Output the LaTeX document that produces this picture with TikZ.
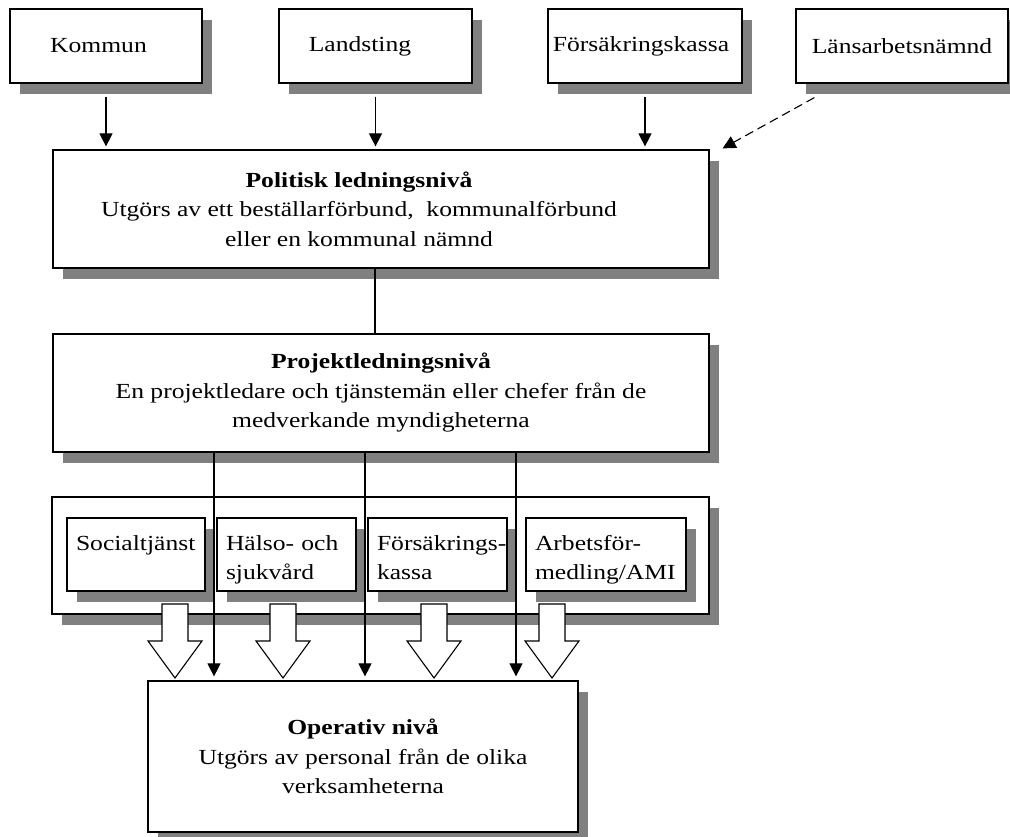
\documentclass[tikz,border=0pt]{standalone}
\usepackage{fontspec}
\setmainfont{Liberation Serif}[FakeStretch=1.19]
\usetikzlibrary{arrows.meta, shadows}
\definecolor{shadowgray}{HTML}{808080}
\newcommand\boxfont{\fontsize{21.5}{29.5}\selectfont\hyphenpenalty=10000}
\newcommand\upstrut{\rule{0pt}{26pt}}
\newcommand\downstrut{\rule[-5.5pt]{0pt}{5.5pt}}
\newcommand\padr[1][44pt]{\hspace*{#1}\mbox{}}
\tikzset{
  box/.style={
    draw, line width=1.2pt, fill=white, inner sep=0pt,
    font=\boxfont, align=center,
    drop shadow={shadow xshift=10pt, shadow yshift=-11pt, fill=shadowgray, opacity=1},
  },
  topbox/.style={box, minimum height=74pt},
  levelbox/.style={box, minimum width=656pt, minimum height=118pt},
  unitbox/.style={box, align=left, minimum height=73pt, inner xsep=9pt},
  arr/.style={-{Triangle[length=13pt,width=13pt]}, line width=1.1pt},
  dasharr/.style={arr, dash pattern=on 9pt off 5pt},
  link/.style={line width=1.1pt},
  fatarrow/.style={draw, line width=1.1pt, fill=white},
}

\begin{document}
\begin{tikzpicture}[x=1pt, y=-1pt]
\useasboundingbox (0,0) rectangle (1010,837);

% -- huvudmän (top row) --
\node[topbox, minimum width=192pt] (kommun)      at (106,46)   {Kommun\padr[15pt]};
\node[topbox, minimum width=193pt] (landsting)   at (375.5,46) {Landsting\padr[31pt]};
\node[topbox, minimum width=194pt] (forsakkassa) at (645,46)   {Försäkringskassa\padr[8pt]};
\node[topbox, minimum width=212pt] (lansarb)     at (902,46)   {Länsarbetsnämnd};

% -- nivåer --
\node[levelbox] (politisk) at (381,209)
  {\textbf{Politisk ledningsnivå}\padr\\
   Utgörs av ett beställarförbund,\ \ kommunalförbund\padr\\
   eller en kommunal nämnd\padr};
\node[levelbox] (projekt) at (381,393)
  {\textbf{Projektledningsnivå}\\
   En projektledare och tjänstemän eller chefer från de\\
   medverkande myndigheterna};

% -- myndigheter --
\node[box, minimum width=657pt, minimum height=117pt] (enheter) at (380.5,555.5) {};
\node[unitbox, text width=120pt] (socialtj)  at (136,554.5)   {\upstrut\mbox{Socialtjänst}\\\downstrut};
\node[unitbox, text width=121pt] (halsosjuk) at (286.5,554.5) {\upstrut Hälso- och\\sjukvård\downstrut};
\node[unitbox, text width=121pt] (forsakr)   at (437.5,554.5) {\upstrut\mbox{Försäkrings-}\\kassa\downstrut};
\node[unitbox, text width=142pt] (arbetsf)   at (606,554.5)   {\upstrut\mbox{Arbetsför-}\\medling/AMI\downstrut};

% block arrows down to the operative level
\foreach \bx in {175,283,434,552}
  \draw[fatarrow] (\bx-13,604) -- (\bx-13,641) -- (\bx-27,641) -- (\bx,678)
    -- (\bx+27,641) -- (\bx+13,641) -- (\bx+13,604) -- cycle;

\node[box, minimum width=430pt, minimum height=151pt] (operativ) at (363,756.5)
  {\textbf{Operativ nivå}\\
   Utgörs av personal från de olika\\
   verksamheterna};

% -- connectors --
\foreach \n in {kommun, landsting, forsakkassa}
  \draw[arr, shorten <=13pt, shorten >=3pt] (\n.south) -- (\n.south |- politisk.north);
\draw[dasharr] ([shift={(19,14)}]lansarb.south west) -- ([shift={(13,-1)}]politisk.north east);
\draw[link] ([xshift=-6pt]politisk.south) -- ([xshift=-6pt]projekt.north);
\foreach \dx in {-167,-16,135}
  \draw[arr, shorten >=4pt] ([xshift=\dx pt]projekt.south) -- ([xshift=\dx pt]projekt.south |- operativ.north);

\end{tikzpicture}
\end{document}
